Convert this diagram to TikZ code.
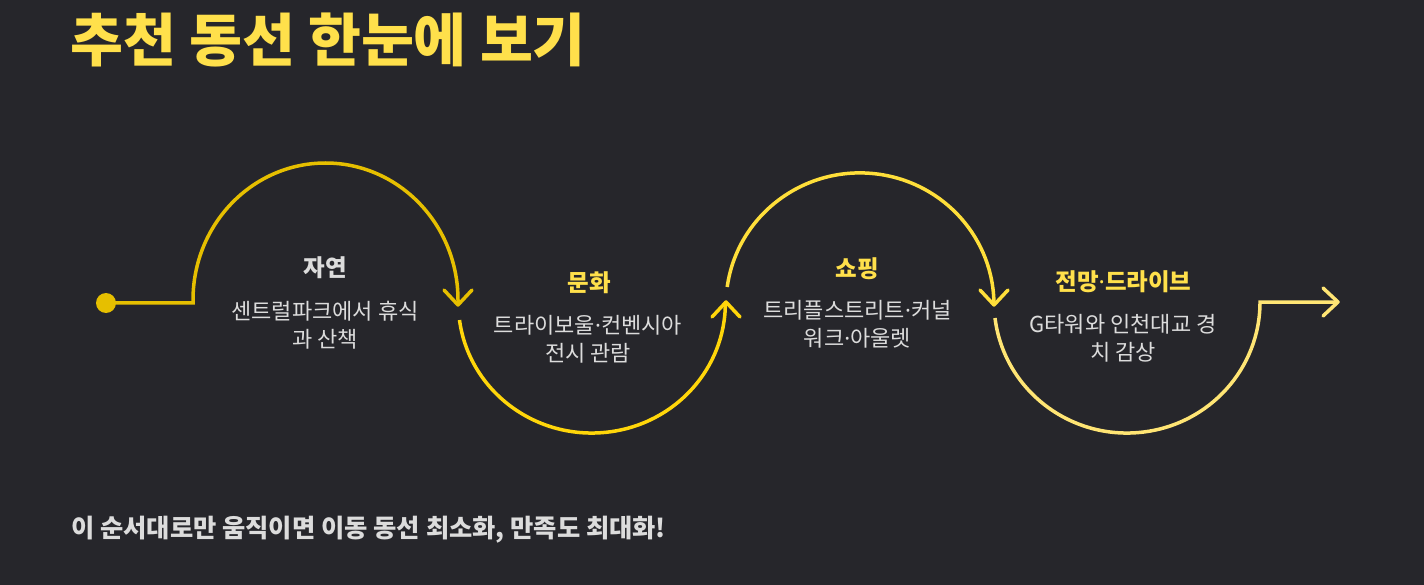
\documentclass[tikz,border=0pt]{standalone}
\usepackage{fontspec}
\newfontfamily\kr{Noto Sans CJK KR}
\newfontfamily\lat{Noto Sans}
\newcommand{\md}{{\lat ·}}
\definecolor{bg}{HTML}{26262B}
\definecolor{cA}{HTML}{E6BF00}
\definecolor{cB}{HTML}{FFD60A}
\definecolor{cC}{HTML}{FFDF3A}
\definecolor{cD}{HTML}{FFE574}
\definecolor{ttl}{HTML}{FFE04B}
\definecolor{txt}{HTML}{DCDCDC}
\tikzset{
  seg/.style={line width=3.5pt},
  chev/.style={line width=3.5pt, line cap=round, line join=round},
  head/.style={font=\kr\bfseries\fontsize{23.5}{26}\selectfont, anchor=center, inner sep=0pt},
  body/.style={font=\kr\fontsize{22}{28}\selectfont, text=txt, align=center, anchor=center, inner sep=0pt},
}
\begin{document}
\begin{tikzpicture}[x=1pt,y=-1pt]
\fill[bg] (0,0) rectangle (1424,585);
\useasboundingbox (0,0) rectangle (1424,585);
% title & footer
\node[anchor=west, inner sep=0pt, text=ttl, font=\kr\bfseries\fontsize{57.5}{62}\selectfont] (title) at (70,40) {추천 동선 한눈에 보기};
\node[anchor=west, inner sep=0pt, text=txt, font=\kr\bfseries\fontsize{25.3}{28}\selectfont] (foot) at (71,530) {이 순서대로만 움직이면 이동 동선 최소화, 만족도 최대화!};
% coordinates
\coordinate (dot) at (106,303);
\coordinate (t1) at (458,305);
\coordinate (t2) at (726,302);
\coordinate (t3) at (994,305);
\coordinate (t4) at (1338,302);
% segment 1
\fill[cA] (dot) circle[radius=10];
\draw[seg, cA] (dot) -- (193,303) -- (193,300) arc[start angle=180, end angle=360, x radius=132.5, y radius=137] -- (t1);
\draw[chev, cA] ([shift={(-14,-15)}]t1) -- (t1) -- ([shift={(14,-15)}]t1);
% segment 2
\draw[seg, cB] (459.5,320) arc[start angle=172.5, end angle=0, x radius=133.5, y radius=130] -- (t2);
\draw[chev, cB] ([shift={(-14,15)}]t2) -- (t2) -- ([shift={(14,15)}]t2);
% segment 3
\draw[seg, cC] (727.2,287) arc[start angle=187.8, end angle=360, x radius=134, y radius=132] -- (t3);
\draw[chev, cC] ([shift={(-14,-15)}]t3) -- (t3) -- ([shift={(14,-15)}]t3);
% segment 4
\draw[seg, cD] (995,318) arc[start angle=173, end angle=0, x radius=133, y radius=131] -- (t4);
\draw[chev, cD] ([shift={(-15,-14)}]t4) -- (t4) -- ([shift={(-15,14)}]t4);
% labels
\node[head, text=txt] (h1) at (325,268) {자연};
\node[body] (b1) at (325,325) {센트럴파크에서 휴식\\과 산책};
\node[head, text=ttl] (h2) at (589,283) {문화};
\node[body] (b2) at (588,339) {트라이보울\md 컨벤시아\\전시 관람};
\node[head, text=ttl] (h3) at (857,269) {쇼핑};
\node[body] (b3) at (857.5,324) {트리플스트리트\md 커널\\워크\md 아울렛};
\node[head, text=ttl] (h4) at (1123.5,282) {전망{\lat\bfseries ·}드라이브};
\node[body] (b4) at (1123,338.5) {G타워와 인천대교 경\\치 감상};
\end{tikzpicture}
\end{document}
